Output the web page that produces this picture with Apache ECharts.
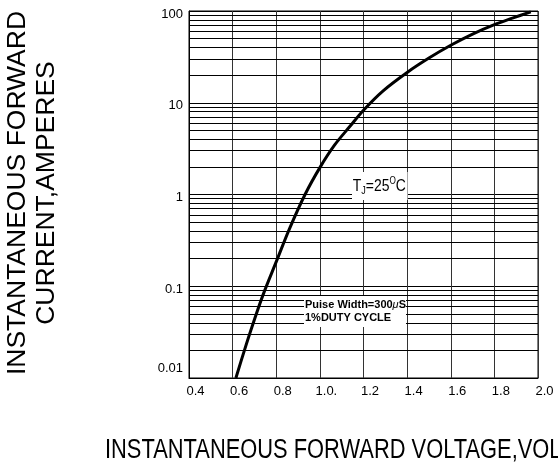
<!DOCTYPE html>
<html>
<head>
<meta charset="utf-8">
<script src="https://cdn.jsdelivr.net/npm/echarts@6/dist/echarts.min.js"></script>
<style>
  html, body { margin: 0; padding: 0; background: #fff; }
  #chart { width: 558px; height: 468px; }
</style>
</head>
<body>
<div id="chart"></div>
<script>
// ---- data ----
const forwardVoltage = [0.615, 0.654, 0.692, 0.739, 0.802, 0.860, 0.932, 1.002, 1.067, 1.137, 1.20, 1.29, 1.40, 1.50, 1.60, 1.70, 1.80, 1.886, 1.967];
const forwardCurrent = [0.01, 0.02, 0.038, 0.08, 0.19, 0.42, 1.0, 2.0, 3.45, 5.5, 8.3, 13.5, 21.4, 30.7, 42.3, 56, 71, 84, 98];

const xTickValues = [0.4, 0.6, 0.8, 1.0, 1.2, 1.4, 1.6, 1.8, 2.0];
const xTickLabels = ['0.4', '0.6', '0.8', '1.0.', '1.2', '1.4', '1.6', '1.8', '2.0'];
const yTickValues = [0.01, 0.1, 1, 10, 100];
const yTickLabels = ['0.01', '0.1', '1', '10', '100'];
const decadeStarts = [0.01, 0.1, 1, 10];
const minorMultipliers = [2, 3, 4, 5, 6, 7, 8, 9];

const yTitle = 'INSTANTANEOUS FORWARD\nCURRENT,AMPERES';
const xTitle = 'INSTANTANEOUS FORWARD VOLTAGE,VOLTS';
const noteTemp = ['T', 'J', '=25', 'O', 'C'];
const notePulse = ['Puise Width=300', 'μ', 'S', '1%DUTY CYCLE'];

// ---- build ----
const seriesData = forwardVoltage.map((v, i) => [v, forwardCurrent[i]]);
const minorLines = [];
decadeStarts.forEach(d => minorMultipliers.forEach(m => minorLines.push({ yAxis: +(d * m).toPrecision(3) })));

const FONT = '"Liberation Sans", Arial, sans-serif';

const chart = echarts.init(document.getElementById('chart'));
chart.setOption({
  animation: false,
  backgroundColor: '#fff',
  grid: {
    left: 189, right: 20, top: 11, bottom: 90,
    show: true, borderColor: '#000', borderWidth: 1, backgroundColor: 'transparent'
  },
  xAxis: {
    type: 'value', min: 0.4, max: 2.0, interval: 0.2,
    axisLine: { show: true, lineStyle: { color: '#000', width: 1 } },
    axisTick: { show: false },
    splitLine: { show: true, lineStyle: { color: '#333', width: 1 } },
    axisLabel: {
      color: '#000', fontFamily: FONT, fontSize: 13, margin: 7,
      padding: [0, 0, 0, 13],
      formatter: v => {
        const i = xTickValues.findIndex(t => Math.abs(t - v) < 1e-6);
        return i >= 0 ? xTickLabels[i] : '';
      }
    }
  },
  yAxis: {
    type: 'log', logBase: 10, min: 0.01, max: 100,
    axisLine: { show: true, lineStyle: { color: '#000', width: 1 } },
    axisTick: { show: false },
    splitLine: { show: true, lineStyle: { color: '#000', width: 1 } },
    axisLabel: {
      color: '#000', fontFamily: FONT, fontSize: 13, margin: 6,
      formatter: v => {
        const i = yTickValues.findIndex(t => Math.abs(Math.log10(t) - Math.log10(v)) < 1e-6);
        if (i < 0) return '';
        return (i === 0 ? '{lo|' : '{n|') + yTickLabels[i] + '}';
      },
      rich: {
        n: { fontFamily: FONT, fontSize: 13, color: '#000', padding: [6, 0, 0, 0] },
        lo: { fontFamily: FONT, fontSize: 13, color: '#000', padding: [0, 0, 20, 0] }
      }
    }
  },
  series: [{
    type: 'line',
    data: seriesData,
    smooth: 0.35,
    showSymbol: false,
    symbol: 'none',
    lineStyle: { color: '#000', width: 3 },
    z: 5,
    markLine: {
      silent: true,
      symbol: ['none', 'none'],
      label: { show: false },
      lineStyle: { color: '#000', width: 1, type: 'solid' },
      emphasis: { disabled: true },
      animation: false,
      data: minorLines
    }
  }],
  graphic: [
    {
      type: 'text', x: 32, y: 193, rotation: Math.PI / 2,
      style: {
        text: yTitle, font: '26.5px ' + FONT, fill: '#000',
        textAlign: 'center', textVerticalAlign: 'middle', lineHeight: 29
      }
    },
    {
      type: 'text', x: 105, y: 451, scaleX: 0.81,
      style: {
        text: xTitle, font: '27px ' + FONT, fill: '#000',
        textAlign: 'left', textVerticalAlign: 'middle'
      }
    },
    {
      type: 'text', x: 352, y: 186, z: 100, scaleX: 0.82,
      style: {
        text: '{m|' + noteTemp[0] + '}{s|' + noteTemp[1] + '}{m|' + noteTemp[2] + '}{u|' + noteTemp[3] + '}{m|' + noteTemp[4] + '}',
        textAlign: 'left', textVerticalAlign: 'middle',
        backgroundColor: '#fff', padding: [4, 2, 4, 1],
        rich: {
          m: { font: '17px ' + FONT, fill: '#000', color: '#000', lineHeight: 20 },
          s: { font: '11px ' + FONT, fill: '#000', color: '#000', lineHeight: 13, verticalAlign: 'bottom' },
          u: { font: '10px ' + FONT, fill: '#000', color: '#000', lineHeight: 11, verticalAlign: 'top' }
        }
      }
    },
    {
      type: 'text', x: 304, y: 296, z: 100,
      style: {
        text: '{b|' + notePulse[0] + '}{i|' + notePulse[1] + '}{b|' + notePulse[2] + '}\n{b|' + notePulse[3] + '}',
        textAlign: 'left', textVerticalAlign: 'top',
        backgroundColor: '#fff', padding: [2, 0, 3, 1],
        rich: {
          b: { font: 'bold 11px ' + FONT, fill: '#000', color: '#000', lineHeight: 13 },
          i: { font: 'italic 11px ' + FONT, fill: '#000', color: '#000', lineHeight: 13 }
        }
      }
    }
  ]
});
</script>
</body>
</html>
